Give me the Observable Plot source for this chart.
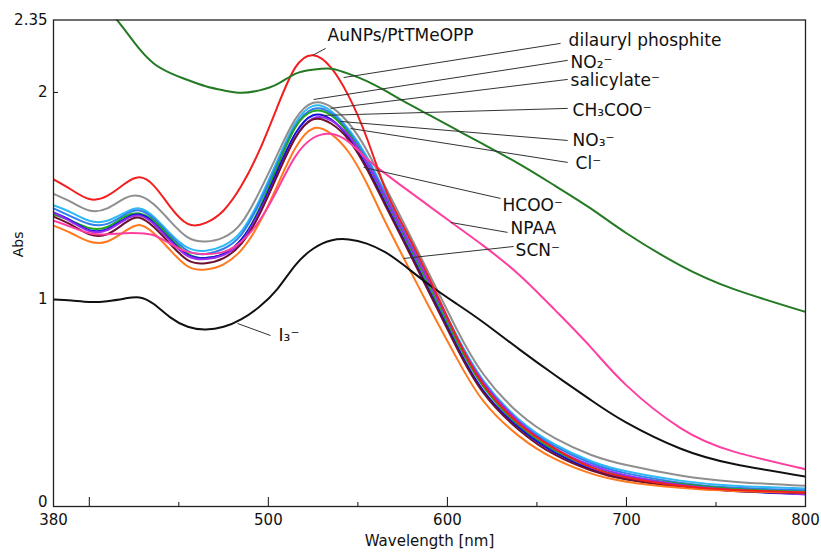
<!DOCTYPE html>
<html><head><meta charset="utf-8">
<script src="https://cdn.jsdelivr.net/npm/d3@7"></script>
<script src="https://cdn.jsdelivr.net/npm/@observablehq/plot@0.6"></script>
<style>body{margin:0;background:#fff;overflow:hidden;}</style>
</head><body><div id="chart"></div>
<script>
const wavelengths = [380, 390, 400, 410, 420, 428, 436, 445, 455, 465, 475, 485, 495, 505, 515, 525, 535, 545, 555, 565, 575, 590, 605, 620, 640, 660, 680, 700, 730, 760, 800];

const cyanSalicylate = [1.455, 1.42, 1.38, 1.38, 1.42, 1.44, 1.40, 1.32, 1.25, 1.235, 1.26, 1.33, 1.48, 1.67, 1.85, 1.935, 1.91, 1.82, 1.69, 1.52, 1.35, 1.09, 0.83, 0.61, 0.42, 0.30, 0.22, 0.17, 0.125, 0.10, 0.087];
const dodgerAcetate = [1.44, 1.40, 1.365, 1.365, 1.41, 1.43, 1.39, 1.31, 1.235, 1.22, 1.245, 1.315, 1.465, 1.655, 1.835, 1.92, 1.90, 1.81, 1.68, 1.51, 1.34, 1.08, 0.82, 0.60, 0.41, 0.29, 0.21, 0.16, 0.115, 0.09, 0.078];
const greenNitrate = [1.41, 1.38, 1.345, 1.35, 1.40, 1.415, 1.38, 1.30, 1.22, 1.20, 1.22, 1.29, 1.44, 1.64, 1.83, 1.91, 1.89, 1.80, 1.66, 1.49, 1.32, 1.06, 0.80, 0.58, 0.39, 0.27, 0.19, 0.145, 0.11, 0.085, 0.07];
const blueChloride = [1.42, 1.38, 1.335, 1.34, 1.39, 1.41, 1.37, 1.29, 1.215, 1.20, 1.22, 1.29, 1.43, 1.62, 1.80, 1.89, 1.87, 1.78, 1.64, 1.47, 1.30, 1.04, 0.78, 0.56, 0.38, 0.26, 0.18, 0.135, 0.10, 0.075, 0.06];
const purpleFormate = [1.42, 1.375, 1.33, 1.335, 1.385, 1.405, 1.365, 1.285, 1.21, 1.195, 1.215, 1.28, 1.42, 1.60, 1.78, 1.875, 1.865, 1.79, 1.66, 1.50, 1.33, 1.08, 0.82, 0.60, 0.41, 0.28, 0.20, 0.15, 0.105, 0.08, 0.058];
const maroonExtra = [1.40, 1.36, 1.315, 1.315, 1.37, 1.395, 1.35, 1.27, 1.19, 1.175, 1.20, 1.27, 1.41, 1.60, 1.78, 1.87, 1.85, 1.77, 1.63, 1.46, 1.29, 1.03, 0.77, 0.55, 0.37, 0.25, 0.175, 0.13, 0.095, 0.075, 0.065];
const orangeThiocyanate = [1.357, 1.32, 1.28, 1.28, 1.33, 1.36, 1.32, 1.24, 1.16, 1.145, 1.17, 1.24, 1.37, 1.55, 1.73, 1.826, 1.80, 1.71, 1.56, 1.38, 1.21, 0.96, 0.72, 0.51, 0.34, 0.23, 0.16, 0.12, 0.09, 0.075, 0.068];
const grayNitrite = [1.51, 1.47, 1.43, 1.44, 1.49, 1.50, 1.46, 1.38, 1.30, 1.28, 1.30, 1.37, 1.52, 1.70, 1.87, 1.95, 1.93, 1.85, 1.72, 1.55, 1.38, 1.12, 0.86, 0.64, 0.45, 0.33, 0.25, 0.20, 0.15, 0.12, 0.10];
const blackTriiodide = [1.00, 0.995, 0.988, 0.992, 1.005, 1.01, 0.978, 0.915, 0.868, 0.855, 0.868, 0.905, 0.965, 1.05, 1.165, 1.245, 1.285, 1.29, 1.27, 1.23, 1.17, 1.07, 0.98, 0.89, 0.76, 0.635, 0.515, 0.405, 0.28, 0.205, 0.145];
const pinkNPAA = [1.38, 1.35, 1.32, 1.315, 1.32, 1.32, 1.31, 1.27, 1.23, 1.22, 1.23, 1.28, 1.38, 1.53, 1.69, 1.78, 1.80, 1.76, 1.68, 1.61, 1.545, 1.45, 1.355, 1.26, 1.12, 0.95, 0.77, 0.585, 0.38, 0.265, 0.18];
const redAuNPs = [1.58, 1.53, 1.485, 1.50, 1.56, 1.59, 1.55, 1.45, 1.365, 1.37, 1.43, 1.55, 1.72, 1.93, 2.12, 2.18, 2.12, 1.98, 1.78, 1.54, 1.36, 1.10, 0.82, 0.59, 0.40, 0.28, 0.19, 0.14, 0.10, 0.08, 0.068];
const darkGreenDilauryl = [2.72, 2.62, 2.52, 2.41, 2.30, 2.21, 2.14, 2.095, 2.06, 2.03, 2.01, 1.998, 2.01, 2.04, 2.09, 2.11, 2.115, 2.09, 2.055, 2.01, 1.96, 1.89, 1.82, 1.75, 1.655, 1.55, 1.44, 1.32, 1.165, 1.05, 0.94];

const seriesNames = ["salicylate", "CH3COO", "NO3", "Cl", "HCOO", "extra", "SCN", "NO2", "I3", "NPAA", "AuNPs", "dilauryl"];
const seriesColors = ["#2fb8f4", "#2f7ff0", "#1fa51f", "#1010e0", "#9a2cf0", "#6e1030", "#ff7a1e", "#8f8f8f", "#111111", "#ff3fa0", "#f41e1e", "#237a23"];
const seriesValues = [cyanSalicylate, dodgerAcetate, greenNitrate, blueChloride, purpleFormate, maroonExtra, orangeThiocyanate, grayNitrite, blackTriiodide, pinkNPAA, redAuNPs, darkGreenDilauryl];

const labelTexts = ["AuNPs/PtTMeOPP", "dilauryl phosphite", "NO\u2082\u207B", "salicylate\u207B", "CH\u2083COO\u207B", "NO\u2083\u207B", "Cl\u207B", "HCOO\u207B", "NPAA", "SCN\u207B", "I\u2083\u207B"];
const labelWl = [533.1, 667.7, 668.8, 668.8, 669.9, 669.9, 671.6, 630.8, 635.3, 638.1, 505.7];
const labelAbs = [2.275, 2.251, 2.145, 2.058, 1.913, 1.768, 1.657, 1.454, 1.343, 1.237, 0.826];
const leaderFromWl = [532.0, 663.2, 667.2, 667.2, 667.2, 667.2, 667.2, 629.7, 633.6, 637.0, 501.2];
const leaderFromAbs = [2.213, 2.237, 2.155, 2.063, 1.923, 1.768, 1.662, 1.488, 1.324, 1.256, 0.826];
const leaderToWl = [524.7, 542.0, 525.3, 534.7, 530.3, 540.3, 545.9, 553.2, 601.8, 575.5, 482.8];
const leaderToAbs = [2.179, 2.072, 1.966, 1.923, 1.889, 1.860, 1.826, 1.638, 1.372, 1.198, 0.884];

const xTickLabels = [380, 500, 600, 700, 800];
const xMajorTicks = [400, 500, 600, 700];
const xMinorTicks = [450, 550, 650, 750];
const yTickLabels = [1, 2, 2.35];
const yZeroLabel = [0];
const yTicks = [1, 2];

const rows = [];
seriesNames.forEach((name, i) => seriesValues[i].forEach((v, j) => rows.push({name, color: seriesColors[i], wl: wavelengths[j], abs: v})));
const notes = labelTexts.map((t, i) => ({t, x: labelWl[i], y: labelAbs[i], x1: leaderFromWl[i], y1: leaderFromAbs[i], x2: leaderToWl[i], y2: leaderToAbs[i]}));

const chart = Plot.plot({
  width: 821, height: 556,
  marginLeft: 53, marginRight: 16, marginTop: 19.5, marginBottom: 50,
  x: {domain: [380, 800]},
  y: {domain: [0, 2.35]},
  style: {fontFamily: "DejaVu Sans", fontSize: "15px", background: "white", color: "#111"},
  marks: [
    Plot.line(rows, {x: "wl", y: "abs", z: "name", stroke: "color", strokeWidth: 2, curve: "natural", clip: true}),
    Plot.link(notes, {x1: "x1", y1: "y1", x2: "x2", y2: "y2", stroke: "#333", strokeWidth: 1}),
    Plot.text(notes, {x: "x", y: "y", text: "t", textAnchor: "start", fontSize: 17, fill: "#111"}),
    Plot.axisX({ticks: xTickLabels, tickSize: 0, tickPadding: 8, tickFormat: d => String(d), label: null}),
    Plot.axisX({ticks: xMajorTicks, tickSize: -9, tickFormat: () => "", label: null}),
    Plot.axisX({ticks: xMinorTicks, tickSize: -4, tickFormat: () => "", label: null}),
    Plot.axisY({ticks: yTickLabels, tickSize: 0, tickPadding: 6, tickFormat: d => String(d), label: null}),
    Plot.axisY({ticks: yZeroLabel, tickSize: 0, tickPadding: 6, dy: -4, tickFormat: d => String(d), label: null}),
    Plot.axisY({ticks: yTicks, tickSize: -5, tickFormat: () => "", label: null}),
    Plot.frame({stroke: "#222", strokeWidth: 1.3}),
    Plot.text(["Wavelength [nm]"], {frameAnchor: "bottom", dy: 39, fontSize: 15, fill: "#111"}),
    Plot.text(["Abs"], {frameAnchor: "left", dx: -35, dy: -6, rotate: -90, fontSize: 14, fill: "#111"})
  ]
});
document.getElementById("chart").appendChild(chart);
</script>
</body></html>
